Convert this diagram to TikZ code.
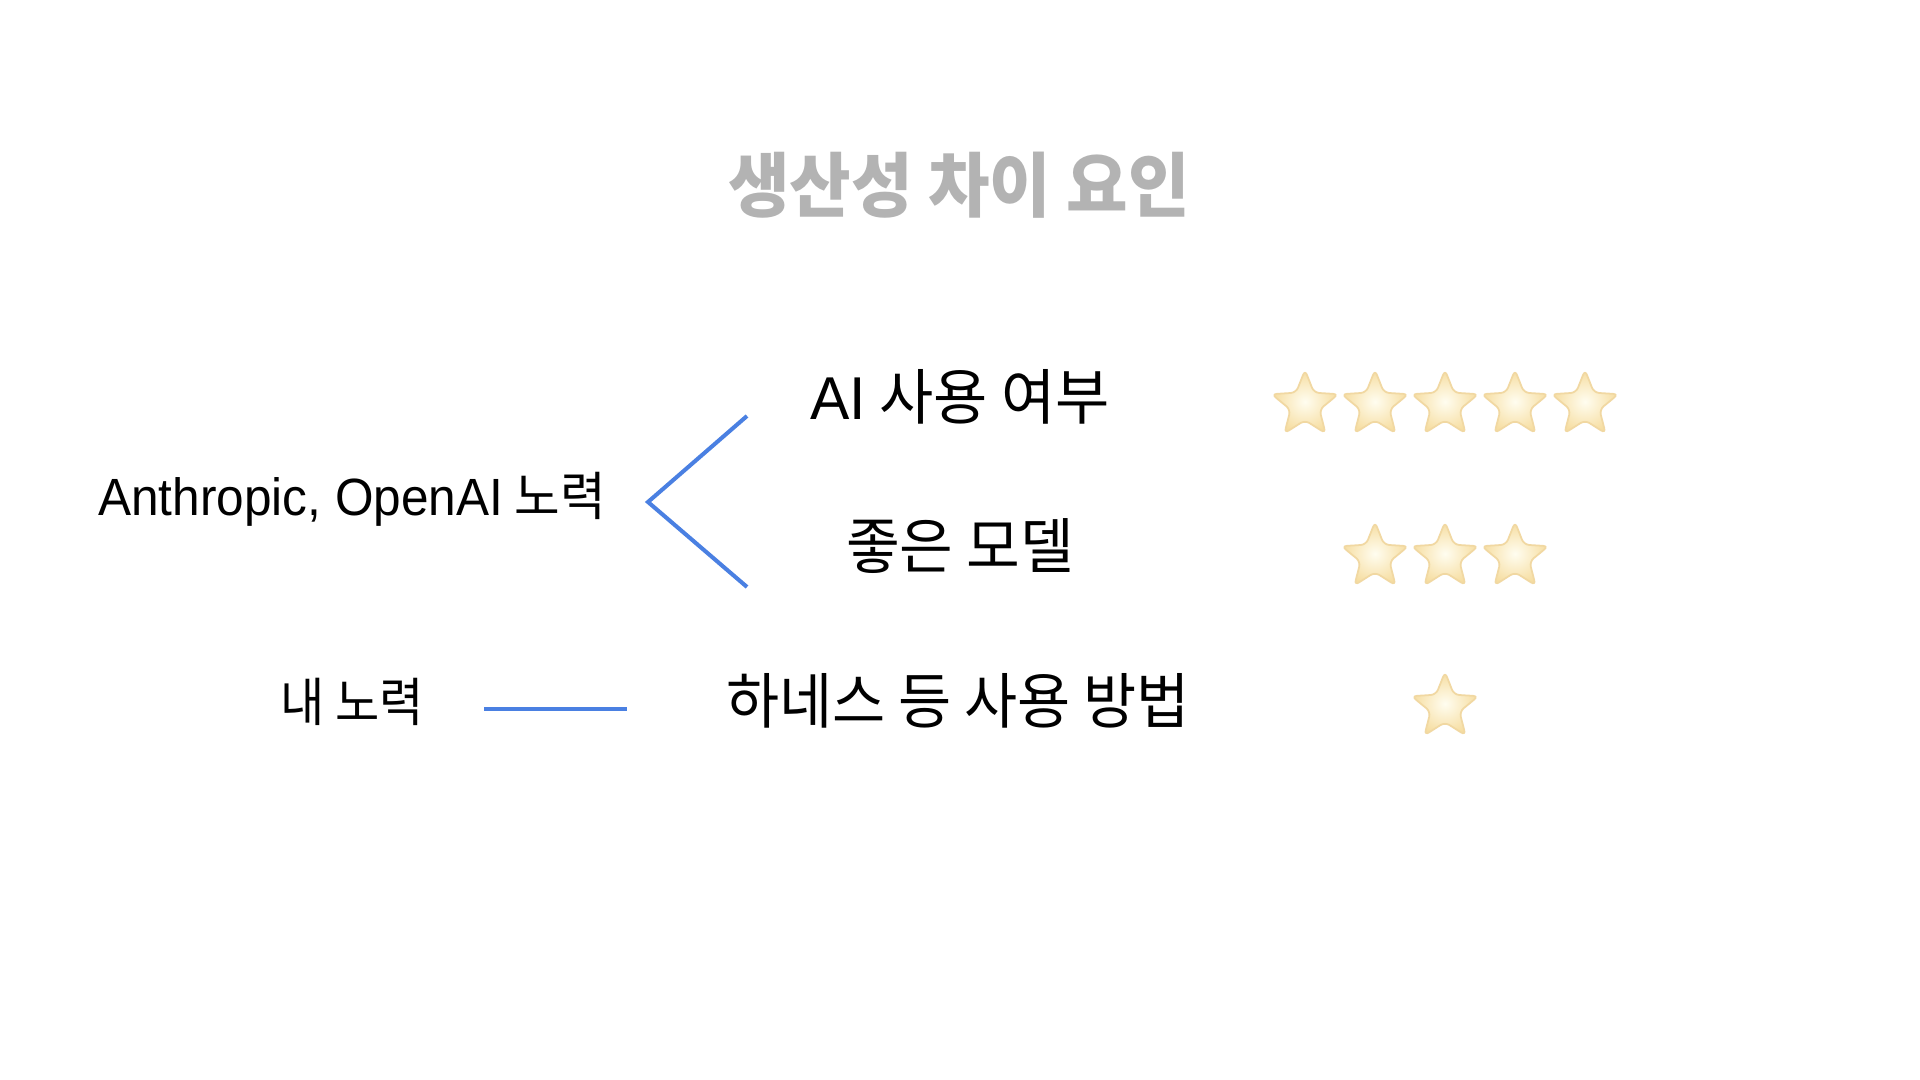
\documentclass[tikz,border=0pt]{standalone}
\usepackage{graphicx}
\usepackage{fontspec}
\setmainfont{Liberation Sans}
\newfontfamily\kr{Noto Sans CJK KR}
\newfontfamily\lat{Liberation Sans}
\usetikzlibrary{shapes.geometric}
\definecolor{titlegray}{HTML}{B3B3B3}
\definecolor{lineblue}{HTML}{4A80E2}
\definecolor{startop}{HTML}{FFFDF0}
\definecolor{starbot}{HTML}{F6DDA0}
\definecolor{starline}{HTML}{F1D8A2}
\newcommand{\sx}[2]{\scalebox{#1}[1]{#2}}
\begin{document}
\begin{tikzpicture}[x=0.01cm,y=-0.01cm,
  title/.style={inner sep=0, anchor=base, text=titlegray, font=\kr\bfseries\fontsize{20pt}{24pt}\selectfont},
  factor/.style={inner sep=0, anchor=base, text=black, font=\kr\fontsize{17.2pt}{21pt}\selectfont},
  source/.style={inner sep=0, anchor=base, text=black, font=\kr\fontsize{14.9pt}{18pt}\selectfont},
  link/.style={draw=lineblue, line width=1.15pt},
  rstar/.style={star, star points=5, star point ratio=2.3, minimum size=0.7cm, inner sep=0,
     draw=starline, line width=0.5pt, inner color=startop, outer color=starbot, rounded corners=1.5pt}]
\path[use as bounding box] (0,0) rectangle (1920,1080);
\fill[white] (0,0) rectangle (1920,1080);

\node[title] (t) at (959,212) {\sx{0.951}{생산성 차이 요인}};

\node[factor] (f1) at (960,420) {\sx{0.975}{{\lat AI} 사용 여부}};
\node[factor] (f2) at (960,569) {\sx{0.965}{좋은 모델}};
\node[factor] (f3) at (958,724) {\sx{0.955}{하네스 등 사용 방법}};

\node[source] (s1) at (352,516) {\sx{0.946}{{\lat Anthropic, OpenAI} 노력}};
\node[source] (s2) at (352,722) {\sx{0.918}{내 노력}};

\coordinate (v) at (648,502);
\coordinate (e1) at (747,416);
\coordinate (e2) at (747,587);
\coordinate (h1) at (484,709);
\coordinate (h2) at (627,709);
\draw[link] (e1) -- (v) -- (e2);
\draw[link] (h1) -- (h2);

\foreach \i/\x in {1/1305,2/1375,3/1445,4/1515,5/1585}
  \node[rstar] (a\i) at (\x,405) {};
\foreach \i/\x in {1/1375,2/1445,3/1515}
  \node[rstar] (b\i) at (\x,557) {};
\node[rstar] (c1) at (1445,707) {};
\end{tikzpicture}
\end{document}
